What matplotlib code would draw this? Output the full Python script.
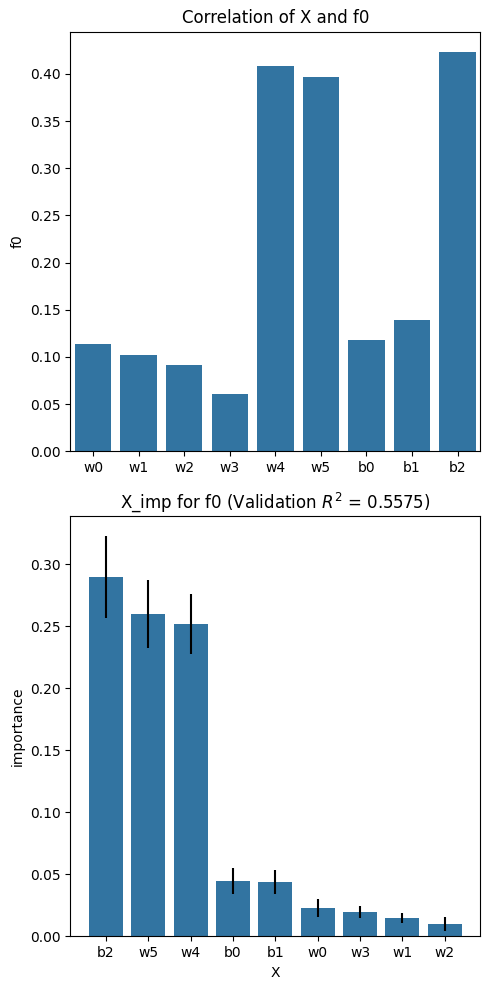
import matplotlib
matplotlib.use("Agg")
import matplotlib.pyplot as plt
import numpy as np
import pandas as pd
import seaborn as sns

# correlation of each input with f0
corr_names = ["w0", "w1", "w2", "w3", "w4", "w5", "b0", "b1", "b2"]
corr_vals = [0.1136, 0.1019, 0.0914, 0.0607, 0.4088, 0.3972, 0.1178, 0.1390, 0.4236]

# permutation importance (sorted)
imp_names = ["b2", "w5", "w4", "b0", "b1", "w0", "w3", "w1", "w2"]
imp_mean = [0.2898, 0.2599, 0.2519, 0.0446, 0.0438, 0.0228, 0.0196, 0.0148, 0.0099]
imp_std = [0.0330, 0.0273, 0.0245, 0.0108, 0.0096, 0.0075, 0.0047, 0.0040, 0.0059]
r2 = 0.5575

corr_df = pd.DataFrame({"X": corr_names, "f0": corr_vals})

W, H = 490, 989
fig = plt.figure(figsize=(W / 100, H / 100))
ax1 = fig.add_axes([70.3 / W, 1 - 451.3 / H, 410 / W, 419.6 / H])
ax2 = fig.add_axes([70.3 / W, 1 - 936.3 / H, 410 / W, 420.3 / H])

sns.barplot(data=corr_df, x="X", y="f0", ax=ax1)
ax1.set_title("Correlation of X and f0")
ax1.set_xlabel("")

x = np.arange(len(imp_names))
ax2.bar(x, imp_mean, yerr=imp_std, color="#3274a1")
ax2.set_xticks(x)
ax2.set_xticklabels(imp_names)
ax2.set_title(f"X_imp for f0 (Validation $R^2$ = {r2:.4f})")
ax2.set_xlabel("X")
ax2.set_ylabel("importance")

plt.savefig("out.png", dpi=100)
